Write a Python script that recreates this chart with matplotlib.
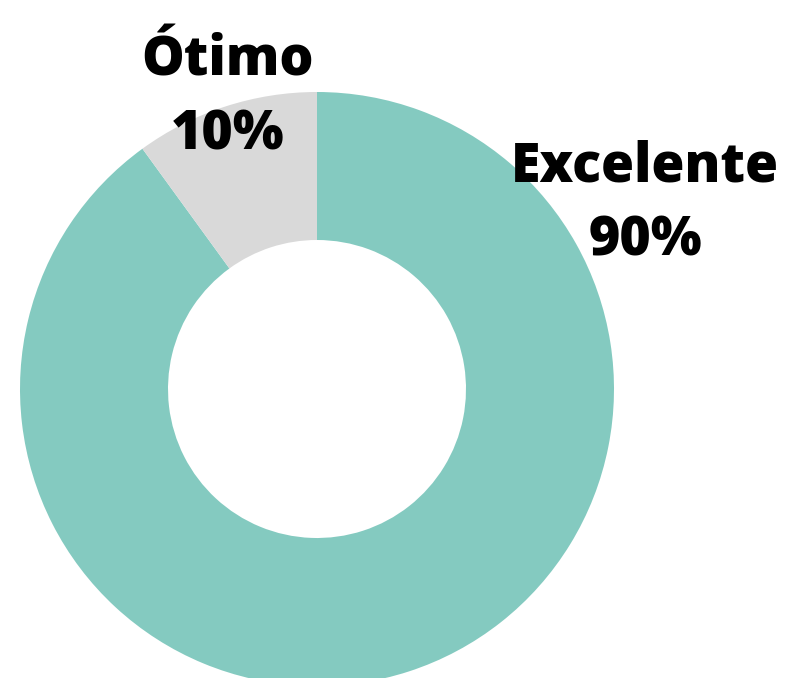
import matplotlib.pyplot as plt

labels = ['Excelente', 'Ótimo']
values = [90, 10]
colors = ['#84CAC0', '#D9D9D9']

fig = plt.figure(figsize=(7.88, 6.78), dpi=100)
ax = fig.add_axes([0, 0, 1, 1])

# donut, center and radius in pixel coords of the figure
ax.pie(values, colors=colors, startangle=90, counterclock=False,
       center=(317, 678 - 389), radius=297,
       wedgeprops=dict(width=148, edgecolor='none'), frame=True)
ax.set_xlim(0, 788)
ax.set_ylim(0, 678)
ax.set_aspect('equal')
ax.axis('off')

font = dict(family='Open Sans', fontweight='heavy', fontsize=38.6,
            color='black', ha='center', va='baseline')
ax.text(228, 678 - 75, labels[1], **font)
ax.text(228, 678 - 150, f'{values[1]}%', **font)
ax.text(645, 678 - 181, labels[0], **font)
ax.text(645, 678 - 256, f'{values[0]}%', **font)

fig.savefig('out.png', dpi=100)
